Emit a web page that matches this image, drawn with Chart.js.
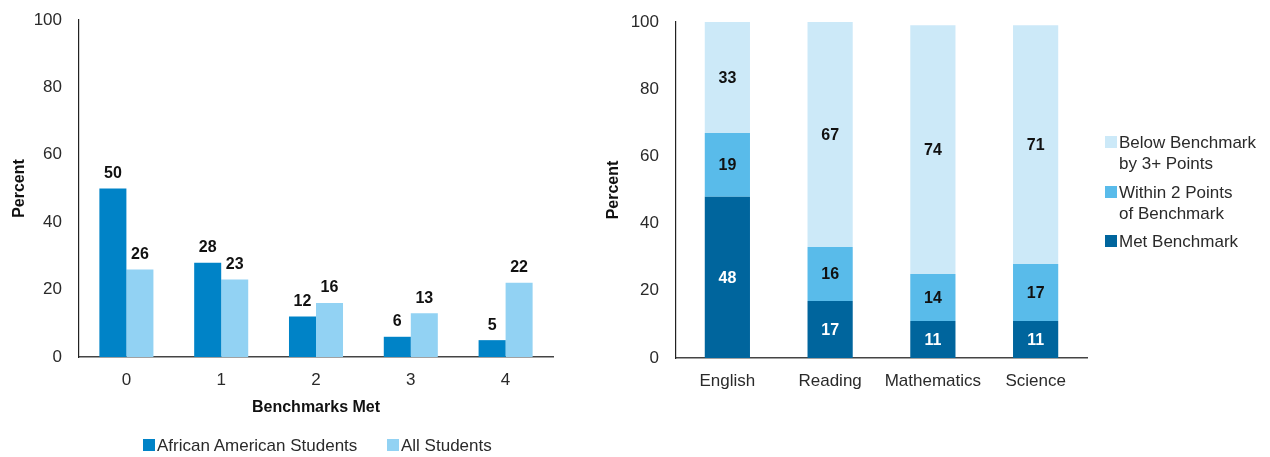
<!DOCTYPE html>
<html>
<head>
<meta charset="utf-8">
<script src="https://cdn.jsdelivr.net/npm/chart.js@4.4.1/dist/chart.umd.min.js"></script>
<style>
  body { margin: 0; background: #fff; font-family: "Liberation Sans", Arial, sans-serif; }
  #wrap { position: relative; width: 1270px; height: 457px; }
  #left { position: absolute; left: 0; top: 0; width: 580px; height: 457px; }
  #right { position: absolute; left: 580px; top: 0; width: 690px; height: 457px; }
  .lg { position: absolute; font-size: 17px; color: #2a2a2a; line-height: 21px; white-space: nowrap; }
  .lg .box { position: absolute; left: 0; top: 4px; width: 12px; height: 12px; }
  .lg .txt { padding-left: 14px; }
</style>
</head>
<body>
<div id="wrap">
  <div id="left"><canvas id="benchChart" width="580" height="457"></canvas></div>
  <div id="right"><canvas id="subjectChart" width="690" height="457"></canvas></div>
</div>
<script>
(() => {
    'use strict'

    // left chart: number of benchmarks met
    const benchmarks = ['0', '1', '2', '3', '4']
    const africanAmerican = [50, 28, 12, 6, 5]
    const allStudents = [26, 23, 16, 13, 22]

    // right chart: by subject
    const subjects = ['English', 'Reading', 'Mathematics', 'Science']
    const metBenchmark = [48, 17, 11, 11]
    const within2 = [19, 16, 14, 17]
    const below3 = [33, 67, 74, 71]

    const yTicks = [0, 20, 40, 60, 80, 100]

    const fontFamily = '"Liberation Sans", Arial, sans-serif'
    Chart.defaults.font.family = fontFamily
    Chart.defaults.color = '#2a2a2a'

    // draws the numbers on the bars
    const valueLabels = {
        id: 'valueLabels',
        afterDatasetsDraw(chart, args, opts) {
            const ctx = chart.ctx
            ctx.save()
            ctx.font = 'bold 16px ' + fontFamily
            ctx.textAlign = 'center'
            chart.data.datasets.forEach((ds, i) => {
                const meta = chart.getDatasetMeta(i)
                meta.data.forEach((bar, j) => {
                    const v = ds.data[j]
                    if (opts.inside) {
                        ctx.fillStyle = ds.labelColor || '#111'
                        ctx.textBaseline = 'middle'
                        ctx.fillText(v, bar.x, (bar.y + bar.base) / 2 + 1)
                    } else {
                        ctx.fillStyle = '#111'
                        ctx.textBaseline = 'bottom'
                        ctx.fillText(v, bar.x, bar.y - 7)
                    }
                })
            })
            ctx.restore()
        }
    }

    const yScale = (stacked, width, titlePad) => ({
        stacked: stacked,
        min: 0,
        max: 100,
        afterBuildTicks: (s) => { s.ticks = yTicks.map(v => ({ value: v })) },
        afterFit: (s) => { s.width = width; s.paddingTop = 0; s.paddingBottom = 0 },
        grid: { display: false, drawTicks: false },
        border: { display: true, color: '#222', width: 1.2 },
        ticks: { padding: 17, font: { size: 17 }, color: '#2a2a2a' },
        title: { display: true, text: 'Percent', font: { size: 16, weight: 'bold' }, color: '#111', padding: { top: titlePad, bottom: 0 } }
    })

    const xScale = (stacked, height, title) => ({
        stacked: stacked,
        afterFit: (s) => { s.height = height; s.paddingLeft = 0; s.paddingRight = 0 },
        grid: { display: false, drawTicks: false },
        border: { display: true, color: '#444', width: 1.5 },
        ticks: { padding: 13, font: { size: 17 }, color: '#2a2a2a', maxRotation: 0, autoSkip: false },
        title: title
            ? { display: true, text: title, font: { size: 16, weight: 'bold' }, color: '#111', padding: { top: 0, bottom: 3 } }
            : { display: false }
    })

    new Chart(document.getElementById('benchChart'), {
        type: 'bar',
        data: {
            labels: benchmarks,
            datasets: [{
                label: 'African American Students',
                data: africanAmerican,
                backgroundColor: '#0083c7',
                categoryPercentage: 0.57,
                barPercentage: 1.0
            }, {
                label: 'All Students',
                data: allStudents,
                backgroundColor: '#92d2f3',
                categoryPercentage: 0.57,
                barPercentage: 1.0
            }]
        },
        options: {
            responsive: false,
            animation: false,
            layout: { padding: { left: 0, right: 27, top: 20, bottom: 37 } },
            scales: {
                x: xScale(false, 63, 'Benchmarks Met'),
                y: yScale(false, 79, 10)
            },
            plugins: {
                legend: { display: false },
                tooltip: { enabled: false },
                valueLabels: { inside: false }
            }
        },
        plugins: [valueLabels]
    })

    const stackColors = ['#00659d', '#59bbea', '#cce9f8']
    const stackNames = ['Met Benchmark', 'Within 2 Points of Benchmark', 'Below Benchmark by 3+ Points']

    new Chart(document.getElementById('subjectChart'), {
        type: 'bar',
        data: {
            labels: subjects,
            datasets: [
                { label: stackNames[0], data: metBenchmark, backgroundColor: stackColors[0], labelColor: '#fff', barPercentage: 0.44, categoryPercentage: 1.0 },
                { label: stackNames[1], data: within2, backgroundColor: stackColors[1], labelColor: '#111', barPercentage: 0.44, categoryPercentage: 1.0 },
                { label: stackNames[2], data: below3, backgroundColor: stackColors[2], labelColor: '#111', barPercentage: 0.44, categoryPercentage: 1.0 }
            ]
        },
        options: {
            responsive: false,
            animation: false,
            layout: { padding: { left: 0, right: 183, top: 22, bottom: 59 } },
            scales: {
                x: xScale(true, 40, null),
                y: yScale(true, 96, 24)
            },
            plugins: {
                legend: { display: false },
                tooltip: { enabled: false },
                valueLabels: { inside: true }
            }
        },
        plugins: [valueLabels]
    })

    // html legends (multi-line labels on the right)
    const wrap = document.getElementById('wrap')
    const addLegend = (x, y, color, lines) => {
        const item = document.createElement('div')
        item.className = 'lg'
        item.style.left = x + 'px'
        item.style.top = y + 'px'
        const box = document.createElement('span')
        box.className = 'box'
        box.style.background = color
        item.appendChild(box)
        lines.forEach(t => {
            const d = document.createElement('div')
            d.className = 'txt'
            d.textContent = t
            item.appendChild(d)
        })
        wrap.appendChild(item)
    }
    addLegend(143, 435, '#0083c7', ['African American Students'])
    addLegend(387, 435, '#92d2f3', ['All Students'])
    addLegend(1105, 132, stackColors[2], ['Below Benchmark', 'by 3+ Points'])
    addLegend(1105, 182, stackColors[1], ['Within 2 Points', 'of Benchmark'])
    addLegend(1105, 231, stackColors[0], ['Met Benchmark'])
})()
</script>
</body>
</html>
